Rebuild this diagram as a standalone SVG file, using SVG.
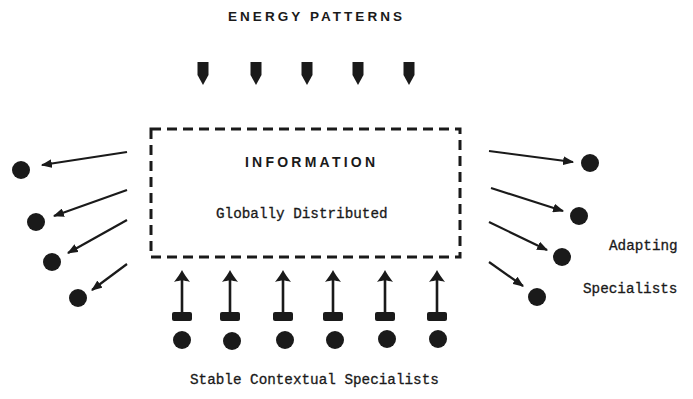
<svg xmlns="http://www.w3.org/2000/svg" width="693" height="399" viewBox="0 0 693 399">
  <defs>
    <style>
      .title { font-family: "Liberation Sans", Arial, sans-serif; font-weight: bold; fill: #1a1a1a; }
      .mono { font-family: "Liberation Mono", "DejaVu Sans Mono", monospace; font-size: 14.3px; fill: #1a1a1a; stroke: #1a1a1a; stroke-width: 0.3; }
      .flow { stroke: #1a1a1a; stroke-width: 2.2; fill: none; }
      .dot { fill: #1a1a1a; }
      .ink { fill: #1a1a1a; }
    </style>
    <marker id="tip" viewBox="0 0 10 8" refX="9" refY="4" markerWidth="5" markerHeight="4" orient="auto" markerUnits="strokeWidth">
      <path d="M0,0 L10,4 L0,8 Z" fill="#1a1a1a"/>
    </marker>
    <!-- drop-shaped energy pointer -->
    <path id="drop" d="M-5.5,0 L5.5,0 L5.5,13 L0,23 L-5.5,13 Z"/>
    <!-- upward arrow resting on a bar -->
    <g id="riser">
      <path d="M0,0 C2,4 5,8 8,12 C5,11 2,10.5 0,10.5 C-2,10.5 -5,11 -8,12 C-5,8 -2,4 0,0 Z"/>
      <rect x="-1.3" y="9" width="2.6" height="35"/>
      <rect x="-10" y="42" width="20" height="9" rx="2"/>
    </g>
  </defs>

  <rect width="693" height="399" fill="#ffffff"/>

  <text class="title" x="228" y="21" font-size="13.5" textLength="174" lengthAdjust="spacing">ENERGY PATTERNS</text>

  <!-- energy inputs -->
  <g id="energy-inputs" class="ink">
    <use href="#drop" x="203" y="62"/>
    <use href="#drop" x="256" y="62"/>
    <use href="#drop" x="307" y="62"/>
    <use href="#drop" x="358" y="62"/>
    <use href="#drop" x="409" y="62"/>
  </g>

  <!-- central information field -->
  <g id="information">
    <rect x="151" y="129" width="309" height="128" fill="none" stroke="#1a1a1a" stroke-width="3" stroke-dasharray="10 6"/>
    <text class="title" x="245" y="167" font-size="14" textLength="130" lengthAdjust="spacing">INFORMATION</text>
    <text class="mono" x="216" y="218">Globally Distributed</text>
  </g>

  <!-- connectors -->
  <g id="connectors">
    <line class="flow" x1="127" y1="152" x2="42" y2="165" marker-end="url(#tip)"/>
    <line class="flow" x1="127" y1="190" x2="54" y2="216" marker-end="url(#tip)"/>
    <line class="flow" x1="127" y1="220" x2="68" y2="253" marker-end="url(#tip)"/>
    <line class="flow" x1="127" y1="264" x2="92" y2="290" marker-end="url(#tip)"/>

    <line class="flow" x1="489" y1="151" x2="573" y2="162" marker-end="url(#tip)"/>
    <line class="flow" x1="491" y1="188" x2="563" y2="211" marker-end="url(#tip)"/>
    <line class="flow" x1="489" y1="222" x2="547" y2="250" marker-end="url(#tip)"/>
    <line class="flow" x1="489" y1="262" x2="523" y2="286" marker-end="url(#tip)"/>

    <g class="ink">
      <use href="#riser" x="182" y="270"/>
      <use href="#riser" x="230" y="270"/>
      <use href="#riser" x="283" y="270"/>
      <use href="#riser" x="333" y="270"/>
      <use href="#riser" x="385" y="270"/>
      <use href="#riser" x="437" y="270"/>
    </g>
  </g>

  <!-- adapting specialists, left side -->
  <g id="adapting-left">
    <circle class="dot" cx="21" cy="170" r="9"/>
    <circle class="dot" cx="36" cy="222" r="9"/>
    <circle class="dot" cx="52" cy="262" r="9"/>
    <circle class="dot" cx="78" cy="298" r="9"/>
  </g>

  <!-- adapting specialists, right side -->
  <g id="adapting-right">
    <circle class="dot" cx="590" cy="163" r="9"/>
    <circle class="dot" cx="579" cy="216" r="9"/>
    <circle class="dot" cx="562" cy="257" r="9"/>
    <circle class="dot" cx="537" cy="297" r="9"/>
    <text class="mono" x="609" y="250">Adapting</text>
    <text class="mono" x="583" y="293">Specialists</text>
  </g>

  <!-- stable contextual specialists -->
  <g id="stable-specialists">
    <circle class="dot" cx="182" cy="340" r="9"/>
    <circle class="dot" cx="232" cy="341" r="9"/>
    <circle class="dot" cx="285" cy="340" r="9"/>
    <circle class="dot" cx="335" cy="340" r="9"/>
    <circle class="dot" cx="387" cy="339" r="9"/>
    <circle class="dot" cx="438" cy="339" r="9"/>
    <text class="mono" x="190" y="384">Stable Contextual Specialists</text>
  </g>
</svg>
